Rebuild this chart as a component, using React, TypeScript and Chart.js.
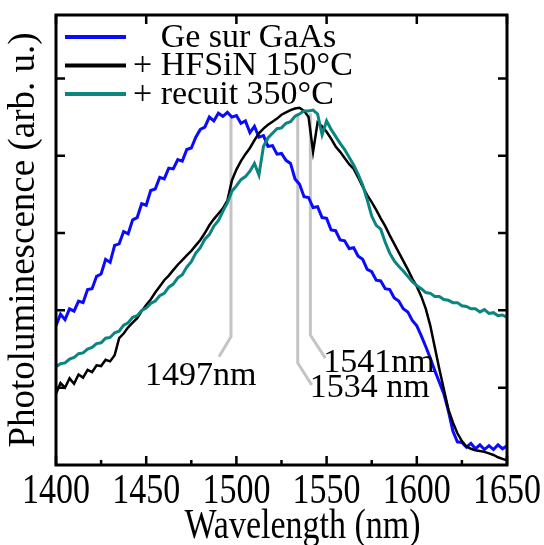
import { useEffect, useRef } from "react";
import { Chart, registerables } from "chart.js";
Chart.register(...registerables);

// ---- data ----
const wavelengths = [
  1400, 1402.5, 1405, 1407.5, 1410, 1412.5, 1415, 1417.5, 1420, 1422.5,
  1425, 1427.5, 1430, 1432.5, 1435, 1437.5, 1440, 1442.5, 1445, 1447.5,
  1450, 1452.5, 1455, 1457.5, 1460, 1462.5, 1465, 1467.5, 1470, 1472.5,
  1475, 1477.5, 1480, 1482.5, 1485, 1487.5, 1490, 1492.5, 1495, 1497.5,
  1500, 1502.5, 1505, 1507.5, 1510, 1512.5, 1515, 1517.5, 1520, 1522.5,
  1525, 1527.5, 1530, 1532.5, 1535, 1537.5, 1540, 1542.5, 1545, 1547.5,
  1550, 1552.5, 1555, 1557.5, 1560, 1562.5, 1565, 1567.5, 1570, 1572.5,
  1575, 1577.5, 1580, 1582.5, 1585, 1587.5, 1590, 1592.5, 1595, 1597.5,
  1600, 1602.5, 1605, 1607.5, 1610, 1612.5, 1615, 1617.5, 1620, 1622.5,
  1625, 1627.5, 1630, 1632.5, 1635, 1637.5, 1640, 1642.5, 1645, 1647.5,
  1650,
];

const geSurGaAs = [
  1.80, 1.95, 1.88, 2.02, 1.99, 2.12, 2.10, 2.27, 2.28, 2.44,
  2.47, 2.66, 2.62, 2.84, 2.86, 3.02, 2.99, 3.17, 3.20, 3.38,
  3.36, 3.55, 3.57, 3.72, 3.70, 3.84, 3.83, 3.95, 3.93, 4.08,
  4.10, 4.24, 4.34, 4.37, 4.50, 4.45, 4.55, 4.51, 4.56, 4.50,
  4.52, 4.42, 4.45, 4.30, 4.38, 4.24, 4.26, 4.12, 4.13, 4.02,
  4.03, 3.94, 3.90, 3.70, 3.63, 3.47, 3.46, 3.33, 3.34, 3.20,
  3.19, 3.04, 3.03, 2.91, 2.90, 2.80, 2.81, 2.70, 2.66, 2.53,
  2.50, 2.39, 2.38, 2.28, 2.27, 2.16, 2.12, 2.02, 1.98, 1.87,
  1.80, 1.67, 1.53, 1.38, 1.22, 1.07, 0.92, 0.70, 0.44, 0.30,
  0.29, 0.23, 0.28, 0.21, 0.26, 0.20, 0.25, 0.20, 0.26, 0.21,
  0.25,
];

const hfsin150 = [
  0.92, 1.06, 1.00, 1.12, 1.05, 1.17, 1.13, 1.23, 1.20, 1.29,
  1.28, 1.36, 1.34, 1.42, 1.64, 1.70, 1.78, 1.84, 1.90, 1.99,
  2.07, 2.14, 2.23, 2.31, 2.39, 2.45, 2.52, 2.59, 2.65, 2.71,
  2.77, 2.84, 2.91, 3.00, 3.10, 3.18, 3.25, 3.32, 3.42, 3.68,
  3.82, 3.93, 4.02, 4.10, 4.20, 4.29, 4.35, 4.40, 4.44, 4.48,
  4.53, 4.56, 4.59, 4.61, 4.62, 4.58, 4.50, 4.05, 4.43, 4.38,
  4.31, 4.22, 4.12, 4.05, 3.97, 3.89, 3.83, 3.72, 3.60, 3.49,
  3.40, 3.30, 3.19, 3.09, 2.97, 2.86, 2.75, 2.64, 2.53, 2.41,
  2.31, 2.18, 2.02, 1.80, 1.52, 1.24, 0.98, 0.72, 0.55, 0.41,
  0.31, 0.24, 0.21, 0.19, 0.18, 0.17, 0.15, 0.13, 0.10, 0.08,
  0.06,
];

const recuit350 = [
  1.27, 1.31, 1.32, 1.37, 1.39, 1.44, 1.45, 1.50, 1.52, 1.57,
  1.58, 1.64, 1.65, 1.71, 1.73, 1.81, 1.84, 1.91, 1.93, 2.00,
  2.03, 2.09, 2.12, 2.19, 2.22, 2.30, 2.34, 2.42, 2.46, 2.56,
  2.63, 2.74, 2.81, 2.92, 2.98, 3.09, 3.16, 3.28, 3.39, 3.54,
  3.61, 3.69, 3.73, 3.80, 3.90, 3.75, 4.12, 4.23, 4.29, 4.35,
  4.36, 4.42, 4.44, 4.51, 4.54, 4.58, 4.58, 4.59, 4.54, 4.27,
  4.45, 4.34, 4.25, 4.16, 4.08, 3.98, 3.88, 3.76, 3.62, 3.43,
  3.22, 3.10, 3.05, 2.88, 2.74, 2.64, 2.57, 2.51, 2.44, 2.37,
  2.32, 2.28, 2.23, 2.22, 2.18, 2.18, 2.14, 2.13, 2.10, 2.10,
  2.06, 2.05, 2.02, 2.02, 1.98, 2.01, 1.96, 1.97, 1.93, 1.94,
  1.91,
];

const seriesLabels = ["Ge sur GaAs", "+ HFSiN 150°C", "+ recuit 350°C"];
const seriesColors = ["#0a0aff", "#000000", "#0b8580"];

const xTicks = [1400, 1450, 1500, 1550, 1600, 1650];
const xMinorTicks = [1425, 1475, 1525, 1575, 1625];
const yTicks = [1, 2, 3, 4, 5];
const xTitle = "Wavelength (nm)";
const yTitle = "Photoluminescence (arb. u.)";

const peakWavelengths = [1497, 1534, 1541];
const peakLabels = ["1497nm", "1534 nm", "1541nm"];
const peakTopValues = [4.5, 4.55, 4.55];
const peakElbowValues = [1.66, 1.32, 1.68];

const FONT = "'Liberation Serif', 'Times New Roman', serif";

function stretchedText(ctx: any, text: string, x: number, y: number, sy: number) {
  ctx.save();
  ctx.translate(x, y);
  ctx.scale(1, sy);
  ctx.fillText(text, 0, 0);
  ctx.restore();
}

const decorPlugin = {
  id: "decor",
  beforeDatasetsDraw(chart: any) {
    const ctx = chart.ctx;
    const xs = chart.scales.x;
    const ys = chart.scales.y;
    const leader = [
      [-12, 20],
      [14, 22],
      [15, 23],
    ];
    ctx.save();
    ctx.strokeStyle = "#c4c4c4";
    ctx.lineWidth = 3;
    peakWavelengths.forEach((wl, i) => {
      const px = xs.getPixelForValue(wl);
      const top = ys.getPixelForValue(peakTopValues[i]);
      const elbow = ys.getPixelForValue(peakElbowValues[i]);
      ctx.beginPath();
      ctx.moveTo(px, top);
      ctx.lineTo(px, elbow);
      ctx.lineTo(px + leader[i][0], elbow + leader[i][1]);
      ctx.stroke();
    });
    ctx.restore();
  },
  afterDatasetsDraw(chart: any) {
    const ctx = chart.ctx;
    const a = chart.chartArea;
    const xs = chart.scales.x;
    const ys = chart.scales.y;
    ctx.save();
    // frame
    ctx.strokeStyle = "#000";
    ctx.lineWidth = 3;
    ctx.strokeRect(a.left, a.top, a.right - a.left, a.bottom - a.top);
    // ticks
    ctx.lineWidth = 2.5;
    ctx.beginPath();
    xTicks.forEach((v) => {
      const px = xs.getPixelForValue(v);
      ctx.moveTo(px, a.bottom);
      ctx.lineTo(px, a.bottom - 9);
      ctx.moveTo(px, a.top);
      ctx.lineTo(px, a.top + 9);
    });
    xMinorTicks.forEach((v) => {
      const px = xs.getPixelForValue(v);
      ctx.moveTo(px, a.bottom);
      ctx.lineTo(px, a.bottom - 5);
    });
    yTicks.forEach((v) => {
      const py = ys.getPixelForValue(v);
      ctx.moveTo(a.left, py);
      ctx.lineTo(a.left + 9, py);
      ctx.moveTo(a.right, py);
      ctx.lineTo(a.right - 9, py);
    });
    ctx.stroke();

    ctx.fillStyle = "#000";
    ctx.font = `34px ${FONT}`;

    // x tick labels and title (vertically stretched like the source figure)
    ctx.textAlign = "center";
    ctx.textBaseline = "alphabetic";
    xTicks.forEach((v) => {
      stretchedText(ctx, String(v), xs.getPixelForValue(v), a.bottom + 38, 1.25);
    });
    stretchedText(ctx, xTitle, (a.left + a.right) / 2 + 21, a.bottom + 73, 1.25);

    // legend
    ctx.textBaseline = "middle";
    ctx.textAlign = "left";
    const plusW = ctx.measureText("+ ").width;
    seriesLabels.forEach((lab, i) => {
      const y = a.top + 22 + i * 28.5;
      ctx.strokeStyle = seriesColors[i];
      ctx.lineWidth = 4;
      ctx.beginPath();
      ctx.moveTo(a.left + 9, y);
      ctx.lineTo(a.left + 70, y);
      ctx.stroke();
      const tx = a.left + 77 + (lab.startsWith("+") ? 0 : plusW);
      ctx.fillText(lab, tx, y + 1);
    });

    // peak labels
    const labelOff = [
      [-86, 48],
      [12, 34],
      [13, 37],
    ];
    ctx.textBaseline = "alphabetic";
    peakWavelengths.forEach((wl, i) => {
      const px = xs.getPixelForValue(wl);
      const elbow = ys.getPixelForValue(peakElbowValues[i]);
      ctx.fillText(peakLabels[i], px + labelOff[i][0], elbow + labelOff[i][1]);
    });
    ctx.restore();
  },
};

export default function App() {
  const ref = useRef<HTMLCanvasElement | null>(null);
  useEffect(() => {
    if (!ref.current) return;
    const series = [geSurGaAs, hfsin150, recuit350];
    const chart = new Chart(ref.current, {
      type: "line",
      data: {
        datasets: series.map((vals, i) => ({
          label: seriesLabels[i],
          data: wavelengths.map((w, j) => ({ x: w, y: vals[j] })),
          borderColor: seriesColors[i],
          borderWidth: i === 1 ? 2.5 : 3,
          pointRadius: 0,
          tension: 0,
          fill: false,
          order: 3 - i,
        })),
      },
      options: {
        animation: false,
        responsive: true,
        maintainAspectRatio: false,
        layout: { padding: { top: 15, right: 37, left: 0, bottom: 0 } },
        plugins: { legend: { display: false }, tooltip: { enabled: false } },
        scales: {
          x: {
            type: "linear",
            min: 1400,
            max: 1650,
            afterFit: (s: any) => {
              s.height = 80;
            },
            grid: { display: false, drawTicks: false },
            border: { display: false },
            ticks: { display: false, stepSize: 50 },
            title: { display: false, text: xTitle },
          },
          y: {
            type: "linear",
            min: 0,
            max: 5.82,
            afterFit: (s: any) => {
              s.width = 56;
            },
            grid: { display: false, drawTicks: false },
            border: { display: false },
            ticks: { display: false, stepSize: 1 },
            title: {
              display: true,
              text: yTitle,
              color: "#000",
              font: { family: FONT, size: 37, lineHeight: 1 },
              padding: { top: 6, bottom: 0 },
            },
          },
        },
      },
      plugins: [decorPlugin],
    });
    return () => chart.destroy();
  }, []);
  return (
    <div style={{ position: "fixed", left: 0, top: 0, width: 544, height: 545, background: "#fff" }}>
      <canvas ref={ref} />
    </div>
  );
}
